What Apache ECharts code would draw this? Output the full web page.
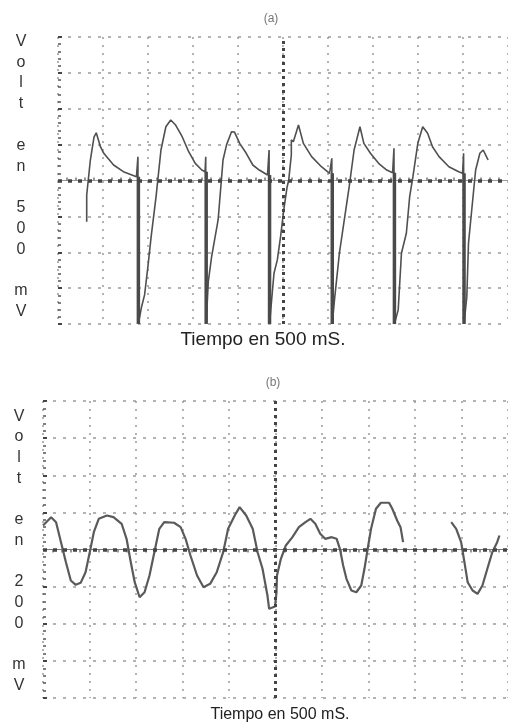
<!DOCTYPE html>
<html><head><meta charset="utf-8">
<script src="https://cdn.jsdelivr.net/npm/echarts@6/dist/echarts.min.js"></script>
<style>html,body{margin:0;padding:0;background:#fff}#c{width:508px;height:726px}</style>
</head><body><div id="c"></div>
<script>
// Trace (a): [time in divisions, volts in divisions]
const traceA = [
 [0.638,-1.148],[0.638,-0.404],[0.719,0.571],[0.800,1.212],[0.850,1.331],[0.943,0.942],[1.017,0.758],[1.235,0.432],[1.453,0.245],[1.743,0.106],
 [1.776,0.663],[1.786,-4.0],[1.852,-3.552],[1.924,-3.189],[1.998,-2.401],[2.070,-1.565],[2.179,-0.451],[2.288,0.850],
 [2.397,1.499],[2.505,1.685],[2.614,1.546],[2.760,1.220],[2.904,0.802],[3.050,0.479],[3.196,0.292],[3.268,0.245],
 [3.283,0.663],[3.293,-4.0],[3.340,-2.819],[3.414,-2.123],[3.558,-1.100],[3.667,0.571],[3.747,1.0],[3.856,1.359],[3.922,1.35],
 [4.037,1.036],[4.183,0.758],[4.329,0.432],[4.473,0.292],[4.656,0.153],
 [4.691,0.850],[4.701,-4.0],[4.728,-3.607],[4.800,-2.585],[4.874,-2.214],[4.946,-1.565],[5.017,-0.822],[5.092,-0.173],[5.126,0.0],
 [5.185,0.71],[5.185,1.13],[5.230,1.08],[5.344,1.546],[5.453,1.036],[5.636,0.664],[5.854,0.384],[6.035,0.201],
 [6.085,0.618],[6.095,-4.0],[6.144,-3.329],[6.253,-2.028],[6.362,-1.100],[6.471,-0.173],[6.580,0.850],[6.710,1.499],
 [6.797,1.036],[6.943,0.758],[7.124,0.479],[7.305,0.292],[7.436,0.217],
 [7.466,0.897],[7.476,-4.0],[7.560,-3.607],[7.632,-2.028],[7.741,-1.471],[7.815,-0.451],[7.887,0.106],[7.996,1.036],
 [8.105,1.499],[8.214,1.315],[8.322,0.942],[8.468,0.664],[8.686,0.384],[8.904,0.245],[8.991,0.201],
 [9.013,0.758],[9.023,-4.0],[9.085,-3.237],[9.122,-1.749],[9.194,-0.822],[9.281,0.292],[9.375,0.758],[9.449,0.850],
 [9.521,0.664],[9.558,0.571]
];
// Trace (b): [time in divisions, volts in divisions]; null = gap in trace
const traceB = [
 [0,0.647],[0.175,0.871],[0.281,0.736],[0.387,0.197],[0.493,-0.342],[0.598,-0.836],[0.704,-0.951],[0.810,-0.898],[0.915,-0.612],[1.021,0.019],
 [1.093,0.466],[1.199,0.827],[1.374,0.916],[1.516,0.871],[1.691,0.693],[1.797,0.288],[1.888,-0.342],[1.972,-0.881],[2.078,-1.286],[2.184,-1.151],
 [2.290,-0.701],[2.395,-0.073],[2.501,0.558],[2.607,0.736],[2.818,0.720],[2.960,0.601],[3.066,0.288],[3.171,-0.162],[3.313,-0.701],[3.452,-1.016],
 [3.594,-0.925],[3.736,-0.612],[3.875,-0.073],[3.981,0.558],[4.123,0.916],[4.228,1.140],[4.370,0.916],[4.510,0.558],[4.615,-0.073],[4.721,-0.520],
 [4.827,-1.240],[4.863,-1.598],[4.989,-1.536],[5.021,-1.159],[5.032,-0.701],[5.116,-0.251],[5.222,0.108],[5.364,0.332],[5.503,0.601],[5.645,0.736],
 [5.751,0.827],[5.856,0.693],[5.962,0.423],[6.068,0.288],[6.209,0.332],[6.315,0.288],[6.385,0.019],[6.455,-0.431],[6.526,-0.790],[6.632,-1.105],
 [6.738,-1.151],[6.844,-0.970],[6.913,-0.520],[6.983,0.019],[7.055,0.558],[7.161,1.097],[7.266,1.259],[7.442,1.259],[7.512,1.097],[7.617,0.782],
 [7.689,0.601],[7.744,0.197],[8.2,null],
 [8.780,0.736],[8.886,0.558],[8.992,0.197],[9.063,-0.342],[9.133,-0.881],[9.239,-1.105],[9.345,-1.194],[9.450,-0.970],[9.556,-0.520],[9.662,-0.073],
 [9.767,0.197],[9.816,0.377]
];
const xRange = [0, 10];
const yRange = [-4, 4];
const yLabel = 'V\no\nl\nt\n\ne\nn\n\n5\n0\n0\n\nm\nV';
const yLabelB = 'V\no\nl\nt\n\ne\nn\n\n2\n0\n0\n\nm\nV';
const xLabel = 'Tiempo en 500 mS.';

// heavy part of each discharge: from the level before the jump down to the bottom of trace (a)
const spikeCols = [];
for (let i = 1; i < traceA.length - 1; i++) {
  if (traceA[i+1][1] <= yRange[0] && traceA[i][1] > traceA[i-1][1]) {
    const x = traceA[i+1][0];
    spikeCols.push([x, traceA[i-1][1]], [x, yRange[0]], [x, '-']);
  }
}

const chart = echarts.init(document.getElementById('c'));
const dotted = {color:'#9a9a9a', width:1.5, type:[2,6]};
function xAx(gi, pos, edgeColor){
  return {type:'value', gridIndex:gi, min:xRange[0], max:xRange[1], interval:1, position:pos,
    axisLabel:{show:false},
    axisLine:{show:true, lineStyle:{color:edgeColor, width:1.2}},
    axisTick:{show:false},
    minorTick:{show:true, splitNumber:5, length:3, lineStyle:{color:'#777', width:1.5}},
    splitLine:{show:true, lineStyle:dotted}};
}
function yAx(gi){
  return {type:'value', gridIndex:gi, min:yRange[0], max:yRange[1], interval:1,
    axisLabel:{show:false}, axisLine:{show:false},
    axisTick:{show:true, inside:true, length:4, lineStyle:{color:'#444', width:2}},
    minorTick:{show:true, splitNumber:5, length:3, lineStyle:{color:'#555', width:1.5}},
    splitLine:{show:true, lineStyle:{color:'#9a9a9a', width:1.5, type:[3,7]}}};
}
const centerMark = {silent:true, symbol:'none', label:{show:false},
  data:[{xAxis:5, lineStyle:{color:'#444', width:3, type:[3,4]}},
        {yAxis:0, lineStyle:{color:'#444', width:3.5, type:[4,6]}}]};
const txt = (x,y,text,size,color,align,lh) => ({type:'text', x, y, silent:true,
  style:{text, font: size+'px "Liberation Sans", Arial, sans-serif', fill:color, align:align||'center', verticalAlign:'top', lineHeight:lh||size}});

chart.setOption({
  animation:false,
  backgroundColor:'#fff',
  grid:[{left:58, top:37, width:459, height:287},
        {left:43, top:401, width:473, height:297}],
  xAxis:[xAx(0,'top','#999'), xAx(1,'bottom','#777')],
  yAxis:[yAx(0), yAx(1)],
  series:[
    {type:'line', xAxisIndex:0, yAxisIndex:0, data:traceA, showSymbol:false, symbol:'none',
     lineStyle:{color:'#505050', width:1.6}, markLine:centerMark, z:3},
    {type:'line', xAxisIndex:0, yAxisIndex:0, data:spikeCols, showSymbol:false, symbol:'none', connectNulls:false,
     lineStyle:{color:'#4a4a4a', width:3.5}, z:4},
    {type:'line', xAxisIndex:1, yAxisIndex:1, data:traceB.map(p=>[p[0], p[1]===null?'-':p[1]]),
     showSymbol:false, symbol:'none', connectNulls:false,
     lineStyle:{color:'#5a5a5a', width:2.2}, markLine:centerMark, z:3}
  ],
  graphic:[
    txt(271,13,'(a)',12,'#777'),
    txt(273,377,'(b)',12,'#777'),
    txt(263,330,xLabel,19,'#222'),
    txt(280,707,xLabel,16,'#222'),
    txt(21,31,yLabel,16,'#333','center',20.8),
    txt(19,406,yLabelB,16,'#333','center',20.7)
  ]
});
</script>
</body></html>
